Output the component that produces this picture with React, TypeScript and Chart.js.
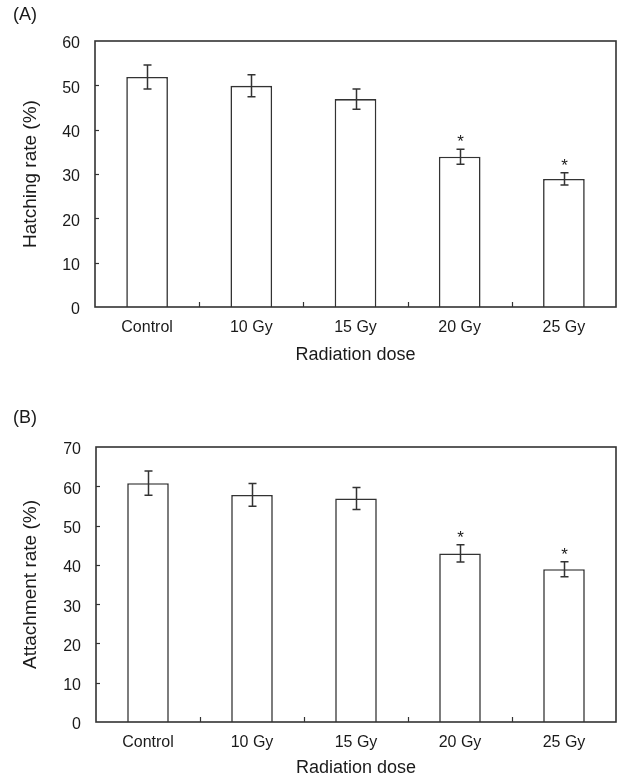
import React, { useEffect, useRef } from "react";
import { Chart, registerables } from "chart.js";

Chart.register(...registerables);

// ---- data ----
const categories = ["Control", "10 Gy", "15 Gy", "20 Gy", "25 Gy"];
const hatchingMeans = [51.9, 49.9, 46.9, 33.9, 28.9];
const hatchingErrors = [2.7, 2.5, 2.3, 1.7, 1.4];
const attachmentMeans = [60.8, 57.8, 56.9, 42.9, 38.9];
const attachmentErrors = [3.1, 2.9, 2.8, 2.2, 1.9];
const significant = [false, false, false, true, true];
const hatchingYMax = 60;
const attachmentYMax = 70;
const yStep = 10;

const FONT = "'Liberation Sans', Arial, Helvetica, sans-serif";
const INK = "#1a1a1a";
const LINE = "#333333";

type PanelProps = {
  panelLabel: string;
  yTitle: string;
  means: number[];
  errors: number[];
  yMax: number;
  top: number;
  height: number;
  plotLeft: number;
  plotTop: number;
  plotRight: number;
  plotBottom: number;
  xTitlePad: number;
  labelY: number;
};

function Panel(p: PanelProps) {
  const ref = useRef<HTMLCanvasElement | null>(null);

  useEffect(() => {
    const canvas = ref.current;
    if (!canvas) return;
    const W = 621;
    const H = p.height;

    const decor = {
      id: "decor",
      afterDatasetsDraw(chart: any) {
        const ctx = chart.ctx;
        const area = chart.chartArea;
        const xs = chart.scales.x;
        const ys = chart.scales.y;
        ctx.save();
        // frame
        ctx.strokeStyle = LINE;
        ctx.lineWidth = 1.6;
        ctx.strokeRect(area.left, area.top, area.right - area.left, area.bottom - area.top);
        // inward y ticks
        ctx.lineWidth = 1.2;
        for (let v = yStep; v < p.yMax; v += yStep) {
          const y = Math.round(ys.getPixelForValue(v)) + 0.5;
          ctx.beginPath();
          ctx.moveTo(area.left, y);
          ctx.lineTo(area.left + 4, y);
          ctx.stroke();
        }
        // inward x ticks at category boundaries
        for (let i = 1; i < categories.length; i++) {
          const x = Math.round((xs.getPixelForTick(i - 1) + xs.getPixelForTick(i)) / 2) + 0.5;
          ctx.beginPath();
          ctx.moveTo(x, area.bottom);
          ctx.lineTo(x, area.bottom - 5);
          ctx.stroke();
        }
        // error bars
        ctx.lineWidth = 1.5;
        ctx.strokeStyle = LINE;
        p.means.forEach((m, i) => {
          const x = Math.round(xs.getPixelForTick(i)) + 0.5;
          const yt = ys.getPixelForValue(m + p.errors[i]);
          const yb = ys.getPixelForValue(m - p.errors[i]);
          ctx.beginPath();
          ctx.moveTo(x, yt);
          ctx.lineTo(x, yb);
          ctx.moveTo(x - 4, yt);
          ctx.lineTo(x + 4, yt);
          ctx.moveTo(x - 4, yb);
          ctx.lineTo(x + 4, yb);
          ctx.stroke();
          if (significant[i]) {
            ctx.fillStyle = INK;
            ctx.font = `17px ${FONT}`;
            ctx.textAlign = "center";
            ctx.textBaseline = "alphabetic";
            ctx.fillText("*", x, yt - 2);
          }
        });
        // panel label
        ctx.fillStyle = INK;
        ctx.font = `18px ${FONT}`;
        ctx.textAlign = "left";
        ctx.textBaseline = "middle";
        ctx.fillText(p.panelLabel, 13, p.labelY);
        ctx.restore();
      },
    };

    const chart = new Chart(canvas, {
      type: "bar",
      data: {
        labels: categories,
        datasets: [
          {
            data: p.means,
            backgroundColor: "#ffffff",
            borderColor: LINE,
            borderWidth: 1.6,
            categoryPercentage: 1,
            barPercentage: 0.4,
          },
        ],
      },
      options: {
        responsive: false,
        animation: false,
        devicePixelRatio: 1,
        layout: {
          padding: { top: p.plotTop, right: W - p.plotRight, left: 0, bottom: 0 },
        },
        plugins: {
          legend: { display: false },
          tooltip: { enabled: false },
        },
        scales: {
          x: {
            grid: { display: false, drawTicks: false },
            border: { display: false },
            ticks: {
              color: INK,
              font: { family: FONT, size: 16 },
              padding: 11,
              maxRotation: 0,
            },
            title: {
              display: true,
              text: "Radiation dose",
              color: INK,
              font: { family: FONT, size: 18 },
              padding: { top: 0, bottom: p.xTitlePad },
            },
            afterFit(scale: any) {
              scale.height = H - p.plotBottom;
            },
          },
          y: {
            min: 0,
            max: p.yMax,
            grid: { display: false, drawTicks: false },
            border: { display: false },
            ticks: {
              stepSize: yStep,
              color: INK,
              font: { family: FONT, size: 16 },
              padding: 15,
              labelOffset: 3,
            },
            title: {
              display: true,
              text: p.yTitle,
              color: INK,
              font: { family: FONT, size: 19 },
              padding: { top: 19, bottom: 0 },
            },
            afterFit(scale: any) {
              scale.width = p.plotLeft;
            },
          },
        },
      },
      plugins: [decor],
    } as any);

    return () => chart.destroy();
  }, []);

  return (
    <canvas
      ref={ref}
      width={621}
      height={p.height}
      style={{ position: "absolute", left: 0, top: p.top, width: 621, height: p.height }}
    />
  );
}

export default function App() {
  return (
    <div style={{ position: "absolute", left: 0, top: 0, width: 621, height: 780, background: "#fff" }}>
      <Panel
        panelLabel="(A)"
        yTitle="Hatching rate (%)"
        means={hatchingMeans}
        errors={hatchingErrors}
        yMax={hatchingYMax}
        top={0}
        height={390}
        plotLeft={95}
        plotTop={41}
        plotRight={616}
        plotBottom={307}
        xTitlePad={24}
        labelY={15}
      />
      <Panel
        panelLabel="(B)"
        yTitle="Attachment rate (%)"
        means={attachmentMeans}
        errors={attachmentErrors}
        yMax={attachmentYMax}
        top={390}
        height={390}
        plotLeft={96}
        plotTop={57}
        plotRight={616}
        plotBottom={332}
        xTitlePad={1}
        labelY={28}
      />
    </div>
  );
}
